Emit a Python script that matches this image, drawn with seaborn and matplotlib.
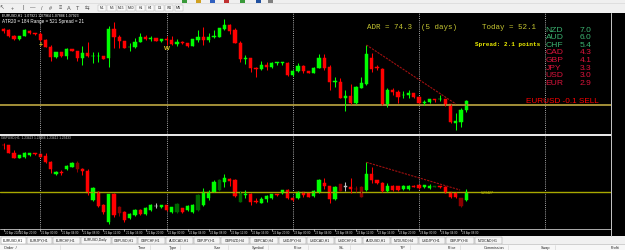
import numpy as np
import pandas as pd
import matplotlib
matplotlib.use("Agg")
import matplotlib.pyplot as plt
import seaborn as sns
from matplotlib.lines import Line2D
from matplotlib.patches import Rectangle

# ---------------- data (prices in 1e-5 units) ----------------
top_open = [108680,108670,108613,108580,108613,108663,108640,108630,108575,108503,
            108400,108450,108413,108477,108460,108393,108443,108408,108408,108410,
            108387,108680,108597,108560,108495,108497,108553,108597,108585,108587,
            108560,108580,108570,108527,108553,108540,108513,108570,108597,108570,
            108605,108603,108680,108720,108670,108543,108385,108387,108293,108277,
            108320,108303,108341,108341,108343,108220,108260,108310,108260,108243,
            108293,108393,108297,108151,108153,107993,108010,107937,108093,108130,
            108387,108295,108280,107927,108073,108053,108018,108020,108037,108003,
            107945,107947,107979,107978,107980,107927,107737,107753,107870]
top_close = [108663,108613,108580,108610,108670,108637,108630,108570,108503,108403,
             108450,108410,108480,108463,108393,108437,108410,108412,108412,108383,
             108680,108597,108563,108493,108499,108547,108597,108580,108589,108563,
             108580,108570,108527,108547,108540,108510,108577,108597,108570,108603,
             108609,108687,108720,108660,108543,108380,108389,108293,108280,108320,
             108303,108343,108345,108345,108220,108263,108310,108263,108243,108293,
             108393,108293,108153,108155,107993,108013,107937,108103,108137,108427,
             108277,108291,107927,108073,108047,108003,108022,108037,107997,107943,
             107949,107980,107975,107982,107920,107747,107760,107867,107960]
top_high = [108687,108675,108620,108615,108680,108670,108645,108653,108585,108520,
            108455,108455,108487,108482,108465,108513,108553,108453,108453,108415,
            108710,108753,108620,108565,108537,108587,108637,108620,108613,108590,
            108585,108613,108613,108580,108565,108545,108582,108670,108697,108637,
            108670,108690,108780,108727,108687,108560,108420,108393,108303,108360,
            108353,108353,108353,108353,108348,108270,108337,108320,108265,108300,
            108427,108427,108320,108203,108187,108070,108127,108110,108203,108520,
            108437,108320,108285,108087,108087,108070,108060,108070,108040,108008,
            107970,107985,107980,108020,107985,107930,107840,107887,107970]
top_low = [108637,108600,108575,108575,108607,108632,108625,108565,108495,108360,
           108395,108405,108380,108458,108363,108320,108403,108343,108353,108378,
           108300,108487,108487,108488,108463,108487,108550,108570,108563,108560,
           108555,108520,108520,108513,108530,108505,108508,108547,108520,108547,
           108587,108600,108670,108627,108537,108353,108327,108253,108203,108270,
           108270,108287,108320,108320,108215,108215,108253,108237,108238,108238,
           108287,108270,108070,108103,107987,107863,107932,107932,108087,108120,
           108253,108270,107922,107903,108020,107937,107993,107987,107992,107938,
           107920,107942,107950,107960,107915,107737,107670,107703,107853]

bot_open = [123902,123900,123823,123773,123783,123800,123820,123810,123793,123730,
            123607,123633,123660,123683,123717,123660,123643,123350,123433,123300,
            123130,123410,123280,123230,123170,123200,123250,123210,123250,123295,
            123277,123300,123230,123230,123267,123250,123230,123250,123300,123370,
            123433,123450,123527,123557,123550,123333,123405,123407,123340,123323,
            123360,123367,123410,123417,123450,123367,123367,123430,123417,123390,
            123427,123523,123490,123357,123510,123487,123483,123465,123483,123450,
            123610,123550,123523,123443,123493,123490,123457,123460,123493,123500,
            123477,123467,123483,123490,123483,123427,123423,123367,123350]
bot_close = [123898,123823,123773,123797,123817,123820,123807,123783,123730,123663,
             123633,123623,123690,123723,123660,123643,123423,123467,123290,123230,
             123407,123200,123220,123150,123210,123250,123210,123270,123300,123290,
             123300,123250,123277,123310,123230,123290,123300,123400,123433,123430,
             123533,123550,123567,123543,123390,123433,123409,123333,123333,123360,
             123393,123410,123400,123450,123367,123350,123433,123400,123383,123443,
             123550,123490,123360,123483,123443,123483,123457,123460,123383,123610,
             123550,123517,123440,123490,123450,123450,123493,123493,123483,123467,
             123500,123493,123493,123477,123423,123377,123377,123290,123433]
bot_high = [123920,123905,123850,123800,123830,123825,123822,123815,123817,123743,
            123637,123650,123703,123733,123743,123667,123657,123477,123440,123310,
            123415,123420,123290,123240,123220,123260,123260,123280,123310,123317,
            123305,123305,123280,123320,123275,123300,123310,123410,123470,123450,
            123550,123560,123610,123567,123560,123440,123450,123417,123367,123383,
            123400,123415,123415,123455,123460,123383,123440,123435,123420,123450,
            123557,123567,123495,123490,123515,123527,123573,123493,123490,123727,
            123683,123555,123530,123517,123500,123495,123500,123500,123500,123505,
            123505,123507,123495,123495,123490,123430,123430,123375,123457]
bot_low = [123860,123820,123770,123770,123767,123790,123802,123780,123725,123623,
           123603,123600,123650,123677,123633,123600,123400,123345,123280,123210,
           123110,123180,123190,123130,123160,123190,123200,123200,123240,123267,
           123270,123240,123220,123220,123220,123240,123220,123240,123290,123350,
           123430,123440,123483,123493,123380,123330,123367,123300,123317,123317,
           123333,123362,123395,123410,123360,123340,123360,123380,123380,123385,
           123422,123457,123323,123352,123440,123443,123423,123433,123380,123443,
           123517,123510,123435,123433,123445,123445,123452,123455,123480,123462,
           123472,123462,123480,123472,123420,123372,123372,123285,123343]
bot_dark = [14, 22, 33, 37, 41, 45, 64, 67, 68, 82, 87]
bot_gray = [29, 65]

top_level = 1.07925
bot_level = 1.23427
top_trend_x = [69, 86]
top_trend_y = [1.08520, 1.07930]
bot_trend_x = [69, 86.8]
bot_trend_y = [1.23727, 1.23450]
day_starts = [7, 31, 55, 79, 103]

currencies = ["NZD", "AUD", "CHF", "CAD", "GBP", "JPY", "USD", "EUR"]
strength = [7.0, 6.0, 5.4, 4.3, 4.1, 3.3, 3.0, 2.9]

top_ticks = [1.0873, 1.0862, 1.0851, 1.0840, 1.0829, 1.0818, 1.0807, 1.0796, 1.0785, 1.0774]
bot_ticks = [1.2399, 1.2308]

x_label_pos = [0, 3, 7, 11, 15, 19, 23, 27, 31, 35, 39, 43, 47, 51, 55, 59, 63, 67, 71, 75, 79, 83, 87]
x_label_txt = ["20 Apr 2020", "20 Apr 20:00", "21 Apr 00:00", "21 Apr 04:00", "21 Apr 08:00",
               "21 Apr 12:00", "21 Apr 16:00", "21 Apr 20:00", "22 Apr 00:00", "22 Apr 04:00",
               "22 Apr 08:00", "22 Apr 12:00", "22 Apr 16:00", "22 Apr 20:00", "23 Apr 00:00",
               "23 Apr 04:00", "23 Apr 08:00", "23 Apr 12:00", "23 Apr 16:00", "23 Apr 20:00",
               "24 Apr 00:00", "24 Apr 04:00", "24 Apr 08:00"]

tabs = ["EURUSD,H1", "EURJPY,H1", "EURCHF,H1", "EURUSD,Daily", "GBPUSD,H1", "GBPCHF,H1",
        "AUDCAD,H1", "GBPJPY,H1", "GBPNZD,H4", "GBPCAD,H4", "USDJPY,H4", "USDCAD,H1",
        "USDCHF,H1", "AUDUSD,H1", "NZDUSD,H4", "USDJPY,H1", "GBPJPY,H4", "NZDCAD,H1"]
columns = ["Order  /", "Time", "Type", "Size", "Symbol", "Price", "S/L", "T/P", "Price",
           "Commission", "Swap", "Profit"]
timeframes = ["M1", "M5", "M15", "M30", "H1", "H4", "D1", "W1", "MN"]

# ---------------- frames ----------------
top = pd.DataFrame({"o": top_open, "h": top_high, "l": top_low, "c": top_close}) / 1e5
bot = pd.DataFrame({"o": bot_open, "h": bot_high, "l": bot_low, "c": bot_close}) / 1e5

sns.set_theme(style="dark")
plt.rcParams["font.family"] = ["Liberation Sans", "DejaVu Sans"]

W, H = 625, 250
fig = plt.figure(figsize=(W / 100, H / 100), dpi=100, facecolor="black")


def box(x0, y0, x1, y1):
    return [x0 / W, 1 - y1 / H, (x1 - x0) / W, (y1 - y0) / H]


def fx(x):
    return x / W


def fy(y):
    return 1 - y / H


def blank(ax, fc):
    ax.set_facecolor(fc)
    ax.set_xticks([])
    ax.set_yticks([])
    for s in ax.spines.values():
        s.set_visible(False)


X0, DX = 3.5, 5.26
xmin = -X0 / DX
xmax = (611 - X0) / DX


def candles(ax, df, dark=(), gray=()):
    x = df.index.values
    bull = (df.c >= df.o).values
    cols = np.where(bull, "#00ff00", "#ff0000").astype(object)
    for i in dark:
        cols[i] = "#006400" if bull[i] else "#8b0000"
    for i in gray:
        cols[i] = "#c0c0c0"
    cols = list(cols)
    ax.vlines(x, df.l, df.h, colors=cols, lw=0.75)
    ax.bar(x, (df.c - df.o).values, bottom=df.o.values, width=0.62,
           color=cols, edgecolor=cols, linewidth=0.35)


# toolbar
ax_tb = fig.add_axes(box(0, 0, 625, 13))
blank(ax_tb, "#f0f0f0")
ax_tb.set_xlim(0, 625)
ax_tb.set_ylim(13, 0)
ax_tb.axhline(12.6, color="#a0a0a0", lw=0.6)
ax_tb.axhline(3.2, color="#d8d8d8", lw=0.5)
for xi, g in zip([2, 12, 23, 33, 42, 50, 60, 69, 78, 87],
                 ["↖", "+", "|", "—", "/", "#", "≡", "A", "T", "⇆"]):
    ax_tb.text(xi, 8, g, fontsize=4, color="#505050", ha="center", va="center")
for k, t in enumerate(timeframes):
    xc = 102 + k * 9.6
    ax_tb.add_patch(Rectangle((xc - 4.3, 5), 8.6, 6, fc="#f8f8f8", ec="#b0b0b0", lw=0.3))
    ax_tb.text(xc, 8, t, fontsize=2.4, color="#202020", ha="center", va="center")
for xi, c in zip([182, 196, 210, 224, 240, 256, 268], ["#3a9a3a", "#d0a020", "#3060c0", "#c03030",
                                                      "#3a9a3a", "#2050a0", "#808080"]):
    ax_tb.add_patch(Rectangle((xi, 0), 5, 2.5, fc=c, ec="none"))

# top chart
ax_top = fig.add_axes(box(0, 13, 611, 134))
blank(ax_top, "black")
ax_top.set_xlim(xmin, xmax)
ax_top.set_ylim(1.07630, 1.08840)
for d in day_starts:
    ax_top.axvline(d, color="#a8a8a8", lw=0.7, ls=(0, (1, 1.2)))
ax_top.axhline(top_level, color="#b09a3c", lw=1.3)
candles(ax_top, top)
ax_top.plot(top_trend_x, top_trend_y, color="#a01010", lw=0.8, ls=(0, (2, 1)))
ax_top.text(7, 1.0852, "+", color="#e0c020", fontsize=5, ha="center", va="center", fontweight="bold")
ax_top.text(31, 1.0849, "W", color="#e0c020", fontsize=4.5, ha="center", va="center", fontweight="bold")

# bottom chart
ax_bot = fig.add_axes(box(0, 135, 611, 229))
blank(ax_bot, "black")
ax_bot.set_xlim(xmin, xmax)
ax_bot.set_ylim(1.23060, 1.24000)
for d in day_starts:
    ax_bot.axvline(d, color="#a8a8a8", lw=0.7, ls=(0, (1, 1.2)))
ax_bot.axhline(bot_level, color="#a8a800", lw=1.0)
candles(ax_bot, bot, bot_dark, bot_gray)
ax_bot.plot(bot_trend_x, bot_trend_y, color="#a01010", lw=0.8, ls=(0, (2, 1)))
ax_bot.text(92, bot_level - 0.00005, "1.23427", color="#c8c800", fontsize=2.6, ha="center", va="center")

# separator between panels
fig.add_artist(Line2D([0, 611 / W], [fy(134.5)] * 2, color="white", lw=1.3))

# price scale
ax_ps = fig.add_axes(box(611, 13, 625, 236))
blank(ax_ps, "black")
fig.add_artist(Line2D([fx(611)] * 2, [fy(13), fy(236)], color="#c8c8c8", lw=0.7))
for p in top_ticks:
    ax_top.plot([xmax, xmax + 0.35], [p, p], color="#c8c8c8", lw=0.5, clip_on=False)
    ax_top.text(xmax + 0.45, p, f"{p:.5f}", color="#d0d0d0", fontsize=2.6, va="center", ha="left", clip_on=False)
ax_top.text(xmax + 0.3, top_level, f"{top_level:.5f}", color="black", fontsize=2.6, va="center", ha="left",
            bbox=dict(fc="white", ec="none", pad=0.4), clip_on=False)
for p in bot_ticks:
    ax_bot.plot([xmax, xmax + 0.35], [p, p], color="#c8c8c8", lw=0.5, clip_on=False)
    ax_bot.text(xmax + 0.45, p, f"{p:.5f}", color="#d0d0d0", fontsize=2.6, va="center", ha="left", clip_on=False)
ax_bot.text(xmax + 0.3, bot_level, f"{bot_level:.5f}", color="black", fontsize=2.6, va="center", ha="left",
            bbox=dict(fc="#c8c800", ec="none", pad=0.4), clip_on=False)

# time axis strip
ax_tx = fig.add_axes(box(0, 229, 611, 236))
blank(ax_tx, "black")
ax_tx.set_xlim(xmin, xmax)
ax_tx.set_ylim(1, 0)
fig.add_artist(Line2D([0, 611 / W], [fy(229.2)] * 2, color="#c8c8c8", lw=0.6))
for pos, t in zip(x_label_pos, x_label_txt):
    ax_tx.plot([pos, pos], [0, 0.25], color="#c8c8c8", lw=0.5)
    ax_tx.text(pos + 0.2, 0.55, t, color="#d8d8d8", fontsize=2.1, va="center", ha="left")

# tabs
ax_tab = fig.add_axes(box(0, 236, 625, 244))
blank(ax_tab, "#f0f0f0")
ax_tab.set_xlim(0, 625)
ax_tab.set_ylim(8, 0)
edges = [0, 26, 52, 80, 111, 137, 165, 193, 220, 249, 278, 306, 334, 362, 390, 418, 445, 474, 502]
for k, t in enumerate(tabs):
    a, b = edges[k], edges[k + 1]
    ax_tab.add_patch(Rectangle((a + 0.5, 0.5), b - a - 1, 7, fc="white" if k == 0 else "#f4f4f4",
                               ec="#9a9a9a", lw=0.35))
    ax_tab.text((a + b) / 2, 4.2, t, fontsize=2.5, color="#202020", ha="center", va="center")

# header row
ax_hd = fig.add_axes(box(0, 244, 625, 250))
blank(ax_hd, "#f7f7f7")
ax_hd.set_xlim(0, 625)
ax_hd.set_ylim(6, 0)
ax_hd.axhline(0.3, color="#c0c0c0", lw=0.5)
for xc, t in zip([10, 142, 173, 218, 258, 298, 342, 403, 452, 494, 546, 615], columns):
    ax_hd.text(xc, 3.6, t, fontsize=2.7, color="#202020", ha="center", va="center")
for xs in [60, 150, 180, 228, 268, 308, 350, 410, 460, 508, 555]:
    ax_hd.plot([xs, xs], [1, 6], color="#d0d0d0", lw=0.4)

# chart texts
mono = ["Liberation Mono", "DejaVu Sans Mono"]
fig.text(fx(2), fy(15.3), "EURUSD,H1  1.07921 1.07964 1.07886 1.07923", color="white", fontsize=2.5, va="center")
fig.text(fx(2), fy(21.8), "ATR20 = 184 Range = 521 Spread = 21", color="white", fontsize=3.3, va="center")
fig.text(fx(1), fy(137.5), "GBPUSD,H1  1.23423 1.23466 1.23412 1.23433", color="#c8c8c8", fontsize=2.3, va="center")
fig.text(fx(367), fy(27.3), "ADR = 74.3  (5 days)", color="#c8c832", fontsize=5.4, va="center", family=mono)
fig.text(fx(481.5), fy(27.3), "Today = 52.1", color="#c8c832", fontsize=5.4, va="center", family=mono)
fig.text(fx(475), fy(45), "Spread: 2.1 points", color="#f0f000", fontsize=4.3, va="center",
         family=mono, fontweight="bold")
for k, (cur, v) in enumerate(zip(currencies, strength)):
    col = "#3cb371" if v >= 5 else "#dc143c"
    yy = 30 + k * 7.6
    fig.text(fx(545.5), fy(yy), cur, color=col, fontsize=6.1, va="center")
    fig.text(fx(579.5), fy(yy), f"{v:.1f}", color=col, fontsize=6.1, va="center")
fig.text(fx(526.5), fy(101.8), "EURUSD -0.1 SELL", color="#ff0000", fontsize=5.9, va="center")

fig.savefig("out.png", dpi=100, facecolor=fig.get_facecolor())
